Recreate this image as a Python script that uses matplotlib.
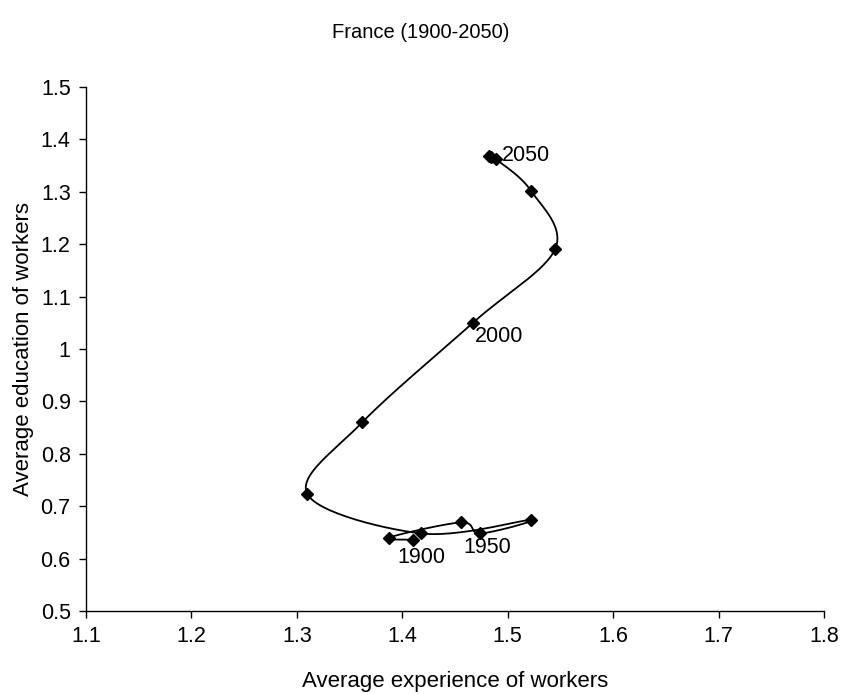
import numpy as np
import matplotlib
matplotlib.use("Agg")
import matplotlib.pyplot as plt

plt.rcParams['font.family'] = ['Liberation Sans', 'DejaVu Sans']

years = [1900, 1910, 1920, 1950, 1960, 1970, 1980, 1990, 2000, 2010, 2020, 2030, 2040, 2050]
experience = [1.410, 1.387, 1.456, 1.474, 1.522, 1.418, 1.310, 1.362, 1.467, 1.545, 1.522, 1.489, 1.484, 1.482]
education = [0.636, 0.640, 0.669, 0.648, 0.674, 0.648, 0.723, 0.860, 1.050, 1.191, 1.302, 1.362, 1.367, 1.369]
labelled_years = [1900, 1950, 2000, 2050]
label_offsets = {1900: (9, -18, 'center'), 1950: (7, -14, 'center'),
                 2000: (2, -14, 'left'), 2050: (13, 0, 'left')}

x_ticks = [1.1, 1.2, 1.3, 1.4, 1.5, 1.6, 1.7, 1.8]
y_ticks = [0.5, 0.6, 0.7, 0.8, 0.9, 1.0, 1.1, 1.2, 1.3, 1.4, 1.5]

fig = plt.figure(figsize=(8.42, 6.94), dpi=100)
ax = fig.add_axes([86/842, 1-611/694, (824-86)/842, (611-87)/694])
ax.set_xlim(1.1, 1.8)
ax.set_ylim(0.5, 1.5)


def smooth(xs, ys, n=30):
    pts = ax.transData.transform(np.column_stack([xs, ys]))
    P = np.vstack([pts[0], pts, pts[-1]])
    out = []
    for i in range(1, len(P) - 2):
        p0, p1, p2, p3 = P[i-1], P[i], P[i+1], P[i+2]
        c1 = p1 + (p2 - p0) / 6.0
        c2 = p2 - (p3 - p1) / 6.0
        t = np.linspace(0, 1, n)[:, None]
        seg = ((1-t)**3)*p1 + 3*((1-t)**2)*t*c1 + 3*(1-t)*(t**2)*c2 + (t**3)*p2
        out.append(seg if i == 1 else seg[1:])
    out = np.vstack(out)
    return ax.transData.inverted().transform(out)

curve = smooth(experience, education)
ax.plot(curve[:, 0], curve[:, 1], color='black', lw=1.3, zorder=2)
ax.plot(experience, education, linestyle='none', marker='D', ms=6.5,
        color='black', zorder=3)

for yr in labelled_years:
    i = years.index(yr)
    dx, dy, ha = label_offsets[yr]
    ax.annotate(str(yr), (experience[i], education[i]),
                xytext=(dx*0.72, dy*0.72), textcoords='offset points',
                ha=ha, va='center', fontsize=15.5)

ax.set_xticks(x_ticks)
ax.set_xticklabels([f"{v:g}" for v in x_ticks])
ax.set_yticks(y_ticks)
ax.set_yticklabels([f"{v:g}" for v in y_ticks])
ax.tick_params(direction='out', length=5, width=1, labelsize=15.5, pad=6)
for s in ['top', 'right']:
    ax.spines[s].set_visible(False)
for s in ['left', 'bottom']:
    ax.spines[s].set_linewidth(1)

ax.set_xlabel('Average experience of workers', fontsize=16, labelpad=17)
ax.set_ylabel('Average education of workers', fontsize=16, labelpad=5)
fig.suptitle('France (1900-2050)', fontsize=14.5, y=1-33/694, va='center')

fig.savefig('out.png', dpi=100)
